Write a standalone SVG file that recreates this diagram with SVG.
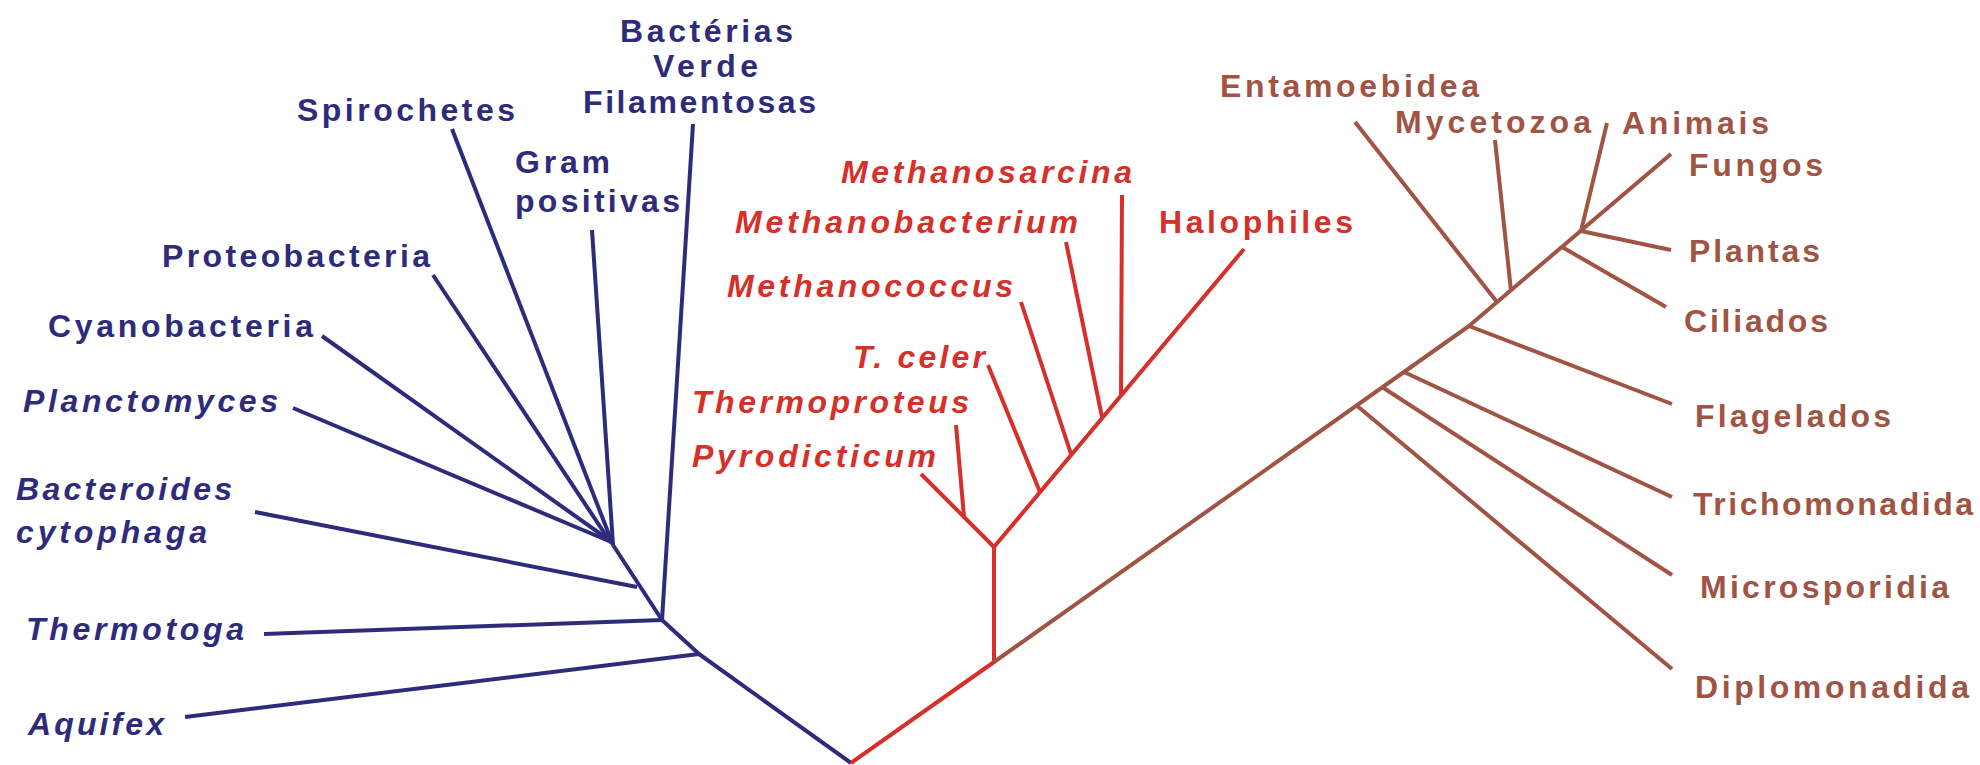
<svg xmlns="http://www.w3.org/2000/svg" width="1980" height="765" viewBox="0 0 1980 765">
<style>
text{font-family:"Liberation Sans",Arial,sans-serif;font-size:32px;font-weight:bold}
.b{fill:#2e2c7a}
.r{fill:#d6302a}
.n{fill:#a05444}
.i{font-style:italic}
.lb{stroke:#2e2c7a}
.lr{stroke:#d6302a}
.ln{stroke:#a05444}
#connectors polyline,#connectors line{fill:none;stroke-width:4;stroke-linecap:butt;stroke-linejoin:round}
</style>
<rect width="1980" height="765" fill="#ffffff"/>
<g id="connectors">
  <!-- bacteria (blue) -->
  <polyline class="lb" points="851,763 699,654 662,620 613,545"/>
  <line class="lb" x1="699" y1="654" x2="185" y2="717"/>
  <line class="lb" x1="662" y1="620" x2="264" y2="634"/>
  <line class="lb" x1="662" y1="620" x2="693" y2="124"/>
  <line class="lb" x1="637" y1="587" x2="255" y2="512"/>
  <line class="lb" x1="613" y1="545" x2="592" y2="230"/>
  <line class="lb" x1="613" y1="545" x2="452" y2="129"/>
  <line class="lb" x1="611" y1="543" x2="433" y2="275"/>
  <line class="lb" x1="609" y1="540" x2="322" y2="336"/>
  <line class="lb" x1="609" y1="541" x2="293" y2="408"/>
  <!-- archaea (red) -->
  <polyline class="lr" points="851,763 994,662 994,547 1244,249"/>
  <line class="lr" x1="994" y1="547" x2="921" y2="474"/>
  <line class="lr" x1="964" y1="517" x2="956" y2="425"/>
  <line class="lr" x1="1040" y1="492" x2="988" y2="365"/>
  <line class="lr" x1="1071" y1="454" x2="1021" y2="302"/>
  <line class="lr" x1="1102" y1="417" x2="1066" y2="242"/>
  <line class="lr" x1="1121" y1="395" x2="1122" y2="195"/>
  <!-- eukaryotes (brown) -->
  <polyline class="ln" points="994,662 1469,326 1671,154"/>
  <line class="ln" x1="1497" y1="302" x2="1355" y2="122"/>
  <line class="ln" x1="1511" y1="291" x2="1495" y2="140"/>
  <line class="ln" x1="1581" y1="231" x2="1607" y2="123"/>
  <line class="ln" x1="1581" y1="231" x2="1671" y2="250"/>
  <line class="ln" x1="1562" y1="247" x2="1666" y2="307"/>
  <line class="ln" x1="1469" y1="326" x2="1672" y2="404"/>
  <line class="ln" x1="1404" y1="372" x2="1672" y2="497"/>
  <line class="ln" x1="1382" y1="387" x2="1672" y2="575"/>
  <line class="ln" x1="1356" y1="405" x2="1672" y2="669"/>
</g>
<g id="node-bacterias-verde-filamentosas">
  <text class="b" x="620" y="42" textLength="173" lengthAdjust="spacing">Bactérias</text>
  <text class="b" x="653" y="77" textLength="105" lengthAdjust="spacing">Verde</text>
  <text class="b" x="583" y="113" textLength="233" lengthAdjust="spacing">Filamentosas</text>
</g>
<g id="node-spirochetes"><text class="b" x="297" y="121" textLength="218" lengthAdjust="spacing">Spirochetes</text></g>
<g id="node-gram-positivas">
  <text class="b" x="515" y="173" textLength="95" lengthAdjust="spacing">Gram</text>
  <text class="b" x="515" y="212" textLength="165" lengthAdjust="spacing">positivas</text>
</g>
<g id="node-proteobacteria"><text class="b" x="162" y="267" textLength="268" lengthAdjust="spacing">Proteobacteria</text></g>
<g id="node-cyanobacteria"><text class="b" x="48" y="337" textLength="265" lengthAdjust="spacing">Cyanobacteria</text></g>
<g id="node-planctomyces"><text class="b i" x="23" y="412" textLength="255" lengthAdjust="spacing">Planctomyces</text></g>
<g id="node-bacteroides">
  <text class="b i" x="16" y="500" textLength="216" lengthAdjust="spacing">Bacteroides</text>
  <text class="b i" x="16" y="543" textLength="191" lengthAdjust="spacing">cytophaga</text>
</g>
<g id="node-thermotoga"><text class="b i" x="26" y="640" textLength="218" lengthAdjust="spacing">Thermotoga</text></g>
<g id="node-aquifex"><text class="b i" x="28" y="735" textLength="136" lengthAdjust="spacing">Aquifex</text></g>
<g id="node-methanosarcina"><text class="r i" x="841" y="183" textLength="291" lengthAdjust="spacing">Methanosarcina</text></g>
<g id="node-methanobacterium"><text class="r i" x="735" y="233" textLength="343" lengthAdjust="spacing">Methanobacterium</text></g>
<g id="node-methanococcus"><text class="r i" x="727" y="297" textLength="286" lengthAdjust="spacing">Methanococcus</text></g>
<g id="node-tceler"><text class="r i" x="853" y="368" textLength="132" lengthAdjust="spacing">T. celer</text></g>
<g id="node-thermoproteus"><text class="r i" x="692" y="413" textLength="277" lengthAdjust="spacing">Thermoproteus</text></g>
<g id="node-pyrodicticum"><text class="r i" x="692" y="467" textLength="244" lengthAdjust="spacing">Pyrodicticum</text></g>
<g id="node-halophiles"><text class="r" x="1159" y="233" textLength="194" lengthAdjust="spacing">Halophiles</text></g>
<g id="node-entamoebidea"><text class="n" x="1220" y="97" textLength="259" lengthAdjust="spacing">Entamoebidea</text></g>
<g id="node-mycetozoa"><text class="n" x="1395" y="133" textLength="196" lengthAdjust="spacing">Mycetozoa</text></g>
<g id="node-animais"><text class="n" x="1622" y="134" textLength="147" lengthAdjust="spacing">Animais</text></g>
<g id="node-fungos"><text class="n" x="1689" y="176" textLength="134" lengthAdjust="spacing">Fungos</text></g>
<g id="node-plantas"><text class="n" x="1689" y="262" textLength="131" lengthAdjust="spacing">Plantas</text></g>
<g id="node-ciliados"><text class="n" x="1684" y="332" textLength="144" lengthAdjust="spacing">Ciliados</text></g>
<g id="node-flagelados"><text class="n" x="1695" y="427" textLength="196" lengthAdjust="spacing">Flagelados</text></g>
<g id="node-trichomonadida"><text class="n" x="1693" y="515" textLength="280" lengthAdjust="spacing">Trichomonadida</text></g>
<g id="node-microsporidia"><text class="n" x="1700" y="598" textLength="249" lengthAdjust="spacing">Microsporidia</text></g>
<g id="node-diplomonadida"><text class="n" x="1695" y="698" textLength="274" lengthAdjust="spacing">Diplomonadida</text></g>
</svg>
